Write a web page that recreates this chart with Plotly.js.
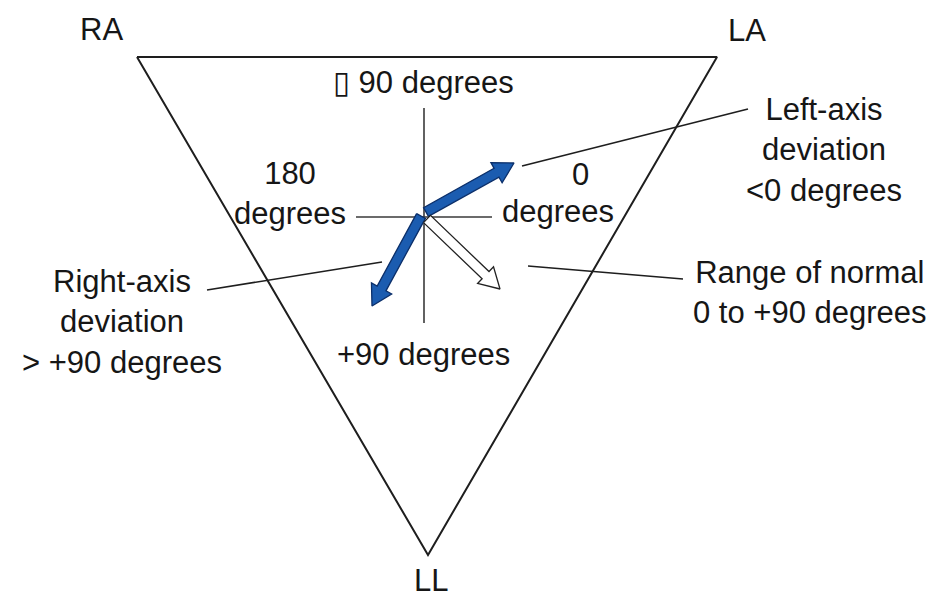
<!DOCTYPE html>
<html>
<head>
<meta charset="utf-8">
<script src="https://cdn.plot.ly/plotly-3.0.1.min.js"></script>
<style>html,body{margin:0;padding:0;background:#fff;}#chart{width:941px;height:600px;}</style>
</head>
<body>
<div id="chart"></div>
<script>
// ---- Data (diagram coordinates, y grows downward) ----
const leadNames = ['RA', 'LA', 'LL'];
const leadVertexX = [137, 717, 428];
const leadVertexY = [57, 57, 555];
const leadLabelX = [101, 747, 431];
const leadLabelY = [29, 30, 580];

const axisCenter = [424, 217];
const axisHalfX = [-68, 68];     // horizontal axis extent
const axisHalfY = [-109, 106];   // vertical axis extent

const degreeLabels = ['\u25AF 90 degrees', '180<br>degrees', '0', 'degrees', '+90 degrees'];
const degreeLabelX = [423, 290, 580, 558, 423];
const degreeLabelY = [82, 193, 174, 211, 354];

const arrowNames = ['Left-axis deviation', 'Right-axis deviation', 'Range of normal'];
const arrowTailX = [426, 421, 427];
const arrowTailY = [212, 216, 219];
const arrowTipX = [514, 372, 500];
const arrowTipY = [163, 306, 289];
const arrowFill = ['#1b5cb0', '#1b5cb0', '#ffffff'];
const arrowEdge = ['#0b2f6a', '#0b2f6a', '#222222'];

const calloutText = ['Left-axis<br>deviation<br>&lt;0 degrees',
                     'Right-axis<br>deviation<br>&gt; +90 degrees',
                     'Range of normal<br>0 to +90 degrees'];
const calloutX = [824, 122, 810];
const calloutY = [150, 322, 292];
const pointerFromX = [522, 382, 528];
const pointerFromY = [166, 262, 266];
const pointerToX = [748, 207, 683];
const pointerToY = [109, 290, 279];

// ---- Build traces ----
const FONT = 'Liberation Sans, Arial, Helvetica, sans-serif';
const traces = [];

// Triangle
traces.push({
  type: 'scatter', mode: 'lines',
  x: leadVertexX.concat([leadVertexX[0]]),
  y: leadVertexY.concat([leadVertexY[0]]),
  line: {color: '#1e1e1e', width: 2}, hoverinfo: 'skip', showlegend: false
});

// Axis cross
traces.push({
  type: 'scatter', mode: 'lines',
  x: [axisCenter[0] + axisHalfX[0], axisCenter[0] + axisHalfX[1], null, axisCenter[0], axisCenter[0]],
  y: [axisCenter[1], axisCenter[1], null, axisCenter[1] + axisHalfY[0], axisCenter[1] + axisHalfY[1]],
  line: {color: '#3a3a3a', width: 1.6}, hoverinfo: 'skip', showlegend: false
});

// Pointer lines
for (let i = 0; i < pointerFromX.length; i++) {
  traces.push({
    type: 'scatter', mode: 'lines',
    x: [pointerFromX[i], pointerToX[i]], y: [pointerFromY[i], pointerToY[i]],
    line: {color: '#1e1e1e', width: 1.6}, hoverinfo: 'skip', showlegend: false
  });
}

// Arrows as filled polygons
function arrowPolygon(x0, y0, x1, y1, shaftHalf, headHalf, headLen) {
  const dx = x1 - x0, dy = y1 - y0;
  const L = Math.sqrt(dx * dx + dy * dy);
  const ux = dx / L, uy = dy / L, nx = -uy, ny = ux;
  const bx = x1 - ux * headLen, by = y1 - uy * headLen;
  const pts = [
    [x0 + nx * shaftHalf, y0 + ny * shaftHalf],
    [bx + nx * shaftHalf, by + ny * shaftHalf],
    [bx + nx * headHalf, by + ny * headHalf],
    [x1, y1],
    [bx - nx * headHalf, by - ny * headHalf],
    [bx - nx * shaftHalf, by - ny * shaftHalf],
    [x0 - nx * shaftHalf, y0 - ny * shaftHalf],
    [x0 + nx * shaftHalf, y0 + ny * shaftHalf]
  ];
  return {x: pts.map(p => p[0]), y: pts.map(p => p[1])};
}
for (let i = 0; i < arrowNames.length; i++) {
  const poly = arrowPolygon(arrowTailX[i], arrowTailY[i], arrowTipX[i], arrowTipY[i], 5, 11.5, 20);
  traces.push({
    type: 'scatter', mode: 'lines', name: arrowNames[i],
    x: poly.x, y: poly.y, fill: 'toself', fillcolor: arrowFill[i],
    line: {color: arrowEdge[i], width: 1.3}, hoverinfo: 'skip', showlegend: false
  });
}

// ---- Annotations ----
const annotations = [];
const txtFont = {family: FONT, size: 31, color: '#161616'};
for (let i = 0; i < leadNames.length; i++) {
  annotations.push({x: leadLabelX[i], y: leadLabelY[i], xref: 'x', yref: 'y', text: leadNames[i],
    showarrow: false, font: txtFont, xanchor: 'center', yanchor: 'middle'});
}
for (let i = 0; i < degreeLabels.length; i++) {
  annotations.push({x: degreeLabelX[i], y: degreeLabelY[i], xref: 'x', yref: 'y', text: degreeLabels[i],
    showarrow: false, font: txtFont, xanchor: 'center', yanchor: 'middle'});
}
for (let i = 0; i < calloutText.length; i++) {
  annotations.push({x: calloutX[i], y: calloutY[i], xref: 'x', yref: 'y', text: calloutText[i],
    showarrow: false, font: txtFont, xanchor: 'center', yanchor: 'middle', align: 'center'});
}

const layout = {
  width: 941, height: 600,
  margin: {l: 0, r: 0, t: 0, b: 0},
  paper_bgcolor: '#ffffff', plot_bgcolor: '#ffffff',
  xaxis: {range: [0, 941], visible: false, fixedrange: true},
  yaxis: {range: [600, 0], visible: false, fixedrange: true},
  annotations: annotations,
  showlegend: false
};

Plotly.newPlot('chart', traces, layout, {staticPlot: true, displayModeBar: false});
</script>
</body>
</html>
